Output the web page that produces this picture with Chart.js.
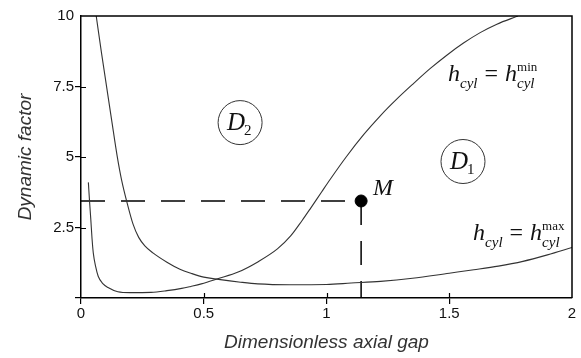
<!DOCTYPE html>
<html>
<head>
<meta charset="utf-8">
<script src="https://cdn.jsdelivr.net/npm/chart.js@4"></script>
<style>
  html, body { margin: 0; padding: 0; background: #fff; }
  #wrap { width: 581px; height: 358px; }
</style>
</head>
<body>
<div id="wrap"><canvas id="chart" width="581" height="358"></canvas></div>
<script>
const xTicks = [0, 0.5, 1, 1.5, 2]
const yTicks = [0, 2.5, 5, 7.5, 10]

// curve h_cyl = h_cyl^max
const hMaxX = [0.062, 0.083, 0.105, 0.125, 0.147, 0.165, 0.19, 0.212, 0.235, 0.26, 0.293, 0.35, 0.403, 0.45, 0.5, 0.56, 0.65, 0.72, 0.85, 1.0, 1.1, 1.22, 1.35, 1.5, 1.6, 1.7, 1.8, 1.9, 2.0]
const hMaxY = [10, 8.72, 7.45, 6.3, 5.05, 4.2, 3.3, 2.62, 2.15, 1.85, 1.6, 1.27, 1.02, 0.87, 0.74, 0.66, 0.56, 0.5, 0.47, 0.48, 0.53, 0.59, 0.7, 0.88, 1.0, 1.13, 1.3, 1.53, 1.79]

// curve h_cyl = h_cyl^min
const hMinX = [0.03, 0.035, 0.04, 0.045, 0.05, 0.06, 0.07, 0.09, 0.11, 0.15, 0.2, 0.285, 0.35, 0.41, 0.447, 0.49, 0.56, 0.64, 0.72, 0.8, 0.854, 0.9, 0.935, 0.98, 1.016, 1.08, 1.152, 1.22, 1.287, 1.355, 1.423, 1.49, 1.558, 1.626, 1.694, 1.78]
const hMinY = [4.1, 3.4, 2.78, 2.1, 1.6, 1.1, 0.77, 0.5, 0.37, 0.22, 0.19, 0.2, 0.26, 0.34, 0.41, 0.5, 0.69, 0.92, 1.28, 1.74, 2.2, 2.74, 3.18, 3.76, 4.22, 5.0, 5.8, 6.47, 7.06, 7.61, 8.14, 8.61, 9.04, 9.41, 9.71, 10.0]

// point M
const pointM = { x: 1.141, y: 3.44 }

const toPoints = (xs, ys) => xs.map((x, i) => ({ x: x, y: ys[i] }))

const serif = '"Liberation Serif", "Times New Roman", serif'

function drawHLabel(ctx, x, y, sup) {
  ctx.textAlign = "left"
  ctx.textBaseline = "alphabetic"
  ctx.font = "italic 24px " + serif
  ctx.fillText("h", x, y)
  let cx = x + ctx.measureText("h").width
  ctx.font = "italic 15px " + serif
  ctx.fillText("cyl", cx, y + 7)
  cx += ctx.measureText("cyl").width + 7
  ctx.font = "24px " + serif
  ctx.fillText("=", cx, y)
  cx += ctx.measureText("=").width + 7
  ctx.font = "italic 24px " + serif
  ctx.fillText("h", cx, y)
  cx += ctx.measureText("h").width
  ctx.font = "13px " + serif
  ctx.fillText(sup, cx, y - 10)
  ctx.font = "italic 15px " + serif
  ctx.fillText("cyl", cx, y + 7)
}

function drawDomain(ctx, cx, cy, sub) {
  ctx.beginPath()
  ctx.arc(cx, cy, 22, 0, Math.PI * 2)
  ctx.lineWidth = 1
  ctx.strokeStyle = "#333"
  ctx.stroke()
  ctx.textAlign = "left"
  ctx.textBaseline = "alphabetic"
  ctx.font = "italic 25px " + serif
  ctx.fillText("D", cx - 13, cy + 7)
  ctx.font = "15px " + serif
  ctx.fillText(sub, cx + 4, cy + 12)
}

// frame, inner ticks and the labels inside the plot
const extras = {
  id: "extras",
  afterDatasetsDraw(chart) {
    const ctx = chart.ctx
    const a = chart.chartArea
    const xs = chart.scales.x
    const ys = chart.scales.y
    ctx.save()
    ctx.strokeStyle = "#000"
    ctx.lineWidth = 1.5
    ctx.beginPath()
    ctx.moveTo(a.left, a.top)
    ctx.lineTo(a.right, a.top)
    ctx.lineTo(a.right, a.bottom)
    ctx.stroke()

    ctx.lineWidth = 1.2
    ctx.beginPath()
    xTicks.slice(1, -1).forEach((v) => {
      const px = Math.round(xs.getPixelForValue(v)) + 0.5
      ctx.moveTo(px, a.bottom)
      ctx.lineTo(px, a.bottom - 5)
    })
    yTicks.slice(1, -1).forEach((v) => {
      const py = Math.round(ys.getPixelForValue(v)) + 0.5
      ctx.moveTo(a.left, py)
      ctx.lineTo(a.left + 5, py)
    })
    ctx.stroke()

    ctx.fillStyle = "#111"
    drawHLabel(ctx, xs.getPixelForValue(1.495), ys.getPixelForValue(7.7), "min")
    drawHLabel(ctx, xs.getPixelForValue(1.597), ys.getPixelForValue(2.06), "max")
    drawDomain(ctx, xs.getPixelForValue(0.648), ys.getPixelForValue(6.22), "2")
    drawDomain(ctx, xs.getPixelForValue(1.556), ys.getPixelForValue(4.84), "1")

    ctx.font = "italic 24px " + serif
    ctx.textAlign = "left"
    ctx.fillText("M", xs.getPixelForValue(1.189), ys.getPixelForValue(3.67))
    ctx.restore()
  },
}

const tickFont = { family: '"Liberation Sans", Arial, sans-serif', size: 15 }
const titleFont = { family: '"Liberation Sans", Arial, sans-serif', size: 19, style: "italic" }

new Chart(document.getElementById("chart"), {
  type: "scatter",
  data: {
    datasets: [
      {
        data: toPoints(hMaxX, hMaxY),
        showLine: true,
        borderColor: "#333",
        borderWidth: 1.1,
        pointRadius: 0,
        cubicInterpolationMode: "monotone",
      },
      {
        data: toPoints(hMinX, hMinY),
        showLine: true,
        borderColor: "#333",
        borderWidth: 1.1,
        pointRadius: 0,
        cubicInterpolationMode: "monotone",
      },
      {
        data: [{ x: 0, y: pointM.y }, { x: pointM.x, y: pointM.y }],
        showLine: true,
        borderColor: "#000",
        borderWidth: 1.5,
        borderDash: [24, 16],
        pointRadius: 0,
      },
      {
        data: [{ x: pointM.x, y: pointM.y }, { x: pointM.x, y: 0 }],
        showLine: true,
        borderColor: "#000",
        borderWidth: 1.5,
        borderDash: [24, 16],
        pointRadius: 0,
      },
      {
        data: [pointM],
        pointRadius: 6,
        backgroundColor: "#000",
        borderColor: "#000",
      },
    ],
  },
  options: {
    responsive: false,
    animation: false,
    layout: { padding: { top: 16, right: 9, left: 0, bottom: 0 } },
    plugins: { legend: { display: false }, tooltip: { enabled: false } },
    scales: {
      x: {
        type: "linear",
        min: 0,
        max: 2,
        afterBuildTicks: (s) => { s.ticks = xTicks.map((v) => ({ value: v })) },
        afterFit: (s) => { s.height = 60 },
        ticks: { font: tickFont, color: "#111", padding: 1, maxRotation: 0, autoSkip: false, callback: (v) => String(v) },
        grid: {
          drawOnChartArea: false,
          tickLength: 6,
          lineWidth: 1.2,
          color: (c) => (c.tick && c.tick.value === 2 ? "rgba(0,0,0,0)" : "#000"),
        },
        border: { color: "#000", width: 1.5 },
        title: { display: true, text: "Dimensionless axial gap", font: titleFont, color: "#333", padding: { top: 0, bottom: 4 } },
      },
      y: {
        type: "linear",
        min: 0,
        max: 10,
        afterBuildTicks: (s) => { s.ticks = yTicks.map((v) => ({ value: v })) },
        afterFit: (s) => { s.width = 81 },
        ticks: { font: tickFont, color: "#111", padding: 1, autoSkip: false, callback: (v) => (v === 0 ? "" : String(v)) },
        grid: {
          drawOnChartArea: false,
          tickLength: 6,
          lineWidth: 1.2,
          color: (c) => (c.tick && c.tick.value === 10 ? "rgba(0,0,0,0)" : "#000"),
        },
        border: { color: "#000", width: 1.5 },
        title: { display: true, text: "Dynamic factor", font: titleFont, color: "#333", padding: { top: 14, bottom: 0 } },
      },
    },
  },
  plugins: [extras],
})
</script>
</body>
</html>
